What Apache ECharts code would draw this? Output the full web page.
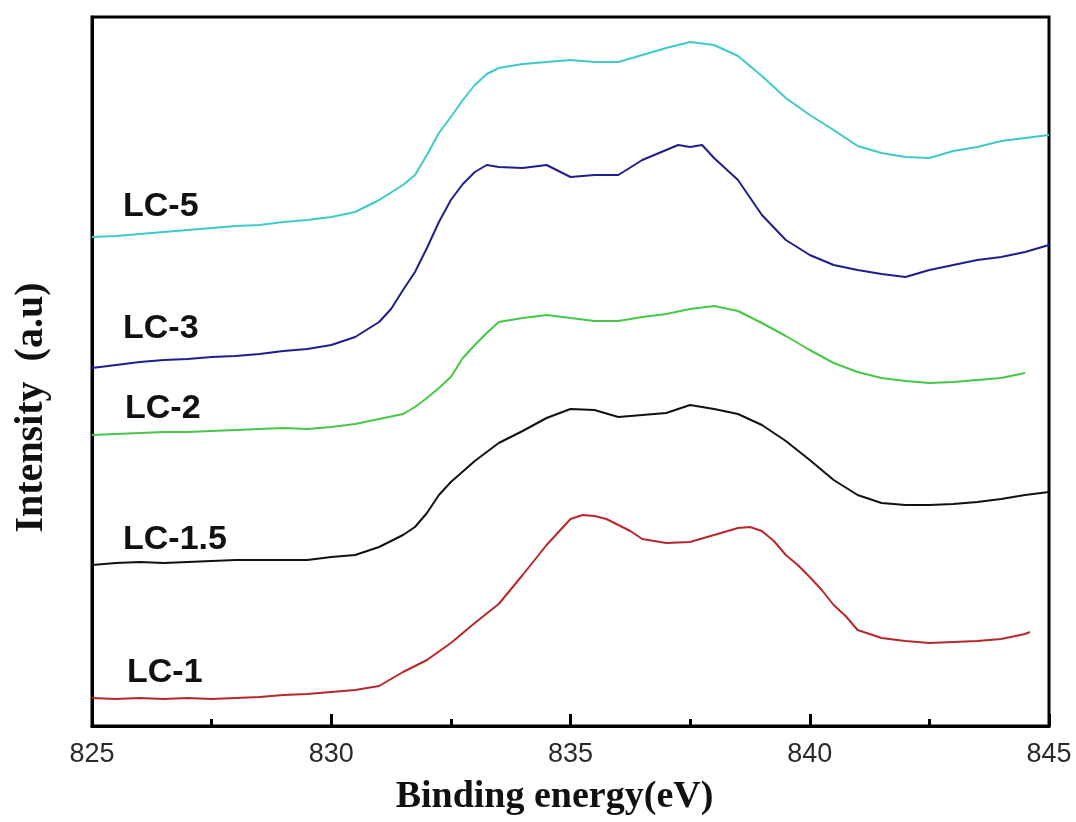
<!DOCTYPE html>
<html>
<head>
<meta charset="utf-8">
<script src="https://cdn.jsdelivr.net/npm/echarts@6/dist/echarts.min.js"></script>
<style>
html,body{margin:0;padding:0;background:#fff;}
#chart{width:1076px;height:822px;}
</style>
</head>
<body>
<div id="chart"></div>
<script>
// Binding energy (eV) and intensity (a.u.) values
const lc5X = [825,825.5,826,826.5,827,827.5,828,828.5,829,829.5,830,830.5,831,831.5,831.75,832,832.25,832.5,832.75,833,833.25,833.5,834,834.5,835,835.5,836,836.5,837,837.5,838,838.5,839,839.5,840,840.5,841,841.5,842,842.5,843,843.5,844,844.5,845];
const lc5Y = [489,490,492,494,496,498,500,501,504,506,509,514,526,541,551,571,593,609,626,641,652,658,662,664,666,664,664,671,678,684,681,670,650,628,611,596,580,573,569,568,575,579,585,588,591];

const lc3X = [825,825.5,826,826.5,827,827.5,828,828.5,829,829.5,830,830.5,831,831.25,831.5,831.75,832,832.25,832.5,832.75,833,833.25,833.5,834,834.5,835,835.5,836,836.5,837,837.25,837.5,837.75,838,838.5,839,839.5,840,840.5,841,841.5,842,842.5,843,843.5,844,844.5,845];
const lc3Y = [358,361,364,366,367,369,370,372,375,377,381,389,404,417,436,454,478,504,526,542,554,561,559,558,561,549,551,551,566,576,581,579,581,568,546,511,486,471,461,456,452,449,456,461,466,469,474,481];

const lc2X = [825,825.5,826,826.5,827,827.5,828,828.5,829,829.5,830,830.5,831,831.5,831.75,832,832.25,832.5,832.75,833,833.25,833.5,834,834.5,835,835.5,836,836.5,837,837.5,838,838.5,839,839.5,840,840.5,841,841.5,842,842.5,843,843.5,844,844.5];
const lc2Y = [291,292,293,294,294,295,296,297,298,297,299,302,307,312,319,328,338,349,368,381,393,404,408,411,408,405,405,409,412,417,420,415,403,390,376,363,354,348,345,343,344,346,348,353];

const lc15X = [825,825.5,826,826.5,827,827.5,828,828.5,829,829.5,830,830.5,831,831.5,831.75,832,832.25,832.5,833,833.5,834,834.5,835,835.5,836,836.5,837,837.5,838,838.5,839,839.5,840,840.5,841,841.5,842,842.5,843,843.5,844,844.5,845];
const lc15Y = [161,163,164,163,164,165,166,166,166,166,169,171,179,191,199,213,231,244,265,283,295,308,317,316,309,311,313,321,317,312,301,285,266,246,231,223,221,221,222,224,227,231,234];

const lc1X = [825,825.5,826,826.5,827,827.5,828,828.5,829,829.5,830,830.5,831,831.5,832,832.5,833,833.5,834,834.5,834.75,835,835.25,835.5,835.75,836,836.25,836.5,836.75,837,837.5,838,838.5,838.75,839,839.25,839.5,839.75,840,840.25,840.5,840.75,841,841.5,842,842.5,843,843.5,844,844.5,844.6];
const lc1Y = [28,27,28,27,28,27,28,29,31,32,34,36,40,54,66,83,103,122,151,181,194,207,211,210,207,201,195,187,185,183,184,191,198,199,195,185,171,161,149,136,121,110,96,88,85,83,84,85,87,92,94];

const seriesNames = ['LC-5','LC-3','LC-2','LC-1.5','LC-1'];
const xTicks = [825,830,835,840,845];

const seriesX = [lc5X, lc3X, lc2X, lc15X, lc1X];
const seriesY = [lc5Y, lc3Y, lc2Y, lc15Y, lc1Y];
const colors = ['#3ccbcb','#1e1e8f','#45c845','#111111','#b8282a'];
const labelPos = [[123,207],[123,329],[125,409],[123,540],[127,673]];

const chart = echarts.init(document.getElementById('chart'));

const series = seriesNames.map((n,i)=>({
  name:n, type:'line', showSymbol:false, smooth:false,
  data: seriesX[i].map((x,j)=>[x, seriesY[i][j]]),
  lineStyle:{color:colors[i], width:2},
  itemStyle:{color:colors[i]},
  z:3
}));

chart.setOption({
  animation:false,
  backgroundColor:'#fff',
  grid:{left:92,right:27,top:17,bottom:96,show:true,borderColor:'#000',borderWidth:3,backgroundColor:'transparent'},
  xAxis:{
    type:'value', min:825, max:845, interval:5,
    name:'Binding energy(eV)', nameLocation:'middle', nameGap:52,
    nameTextStyle:{fontFamily:'Liberation Serif', fontWeight:'bold', fontSize:38, color:'#111', padding:[0,32,0,0]},
    axisLine:{lineStyle:{color:'#000',width:3}},
    axisTick:{inside:true,length:12,lineStyle:{color:'#000',width:3}},
    minorTick:{show:true,splitNumber:2,length:7,lineStyle:{color:'#000',width:3}},
    splitLine:{show:false},
    axisLabel:{fontFamily:'Liberation Sans',fontSize:27,color:'#2a2a2a',margin:15,
      formatter:v=>xTicks.includes(v)?String(v):''}
  },
  yAxis:{
    type:'value', min:0, max:709,
    name:'Intensity  (a.u)', nameLocation:'middle', nameGap:40, nameRotate:90,
    nameTextStyle:{fontFamily:'Liberation Serif', fontWeight:'bold', fontSize:40, color:'#111', padding:[0,72,0,0]},
    axisLine:{show:true,lineStyle:{color:'#000',width:3}},
    axisTick:{show:false},
    axisLabel:{show:false},
    splitLine:{show:false}
  },
  graphic: seriesNames.map((n,i)=>({
    type:'text', x:labelPos[i][0], y:labelPos[i][1], z:10,
    style:{text:n, font:'bold 34px "Liberation Sans"', fill:'#111', align:'left', verticalAlign:'middle'}
  })),
  series: series
});
</script>
</body>
</html>
